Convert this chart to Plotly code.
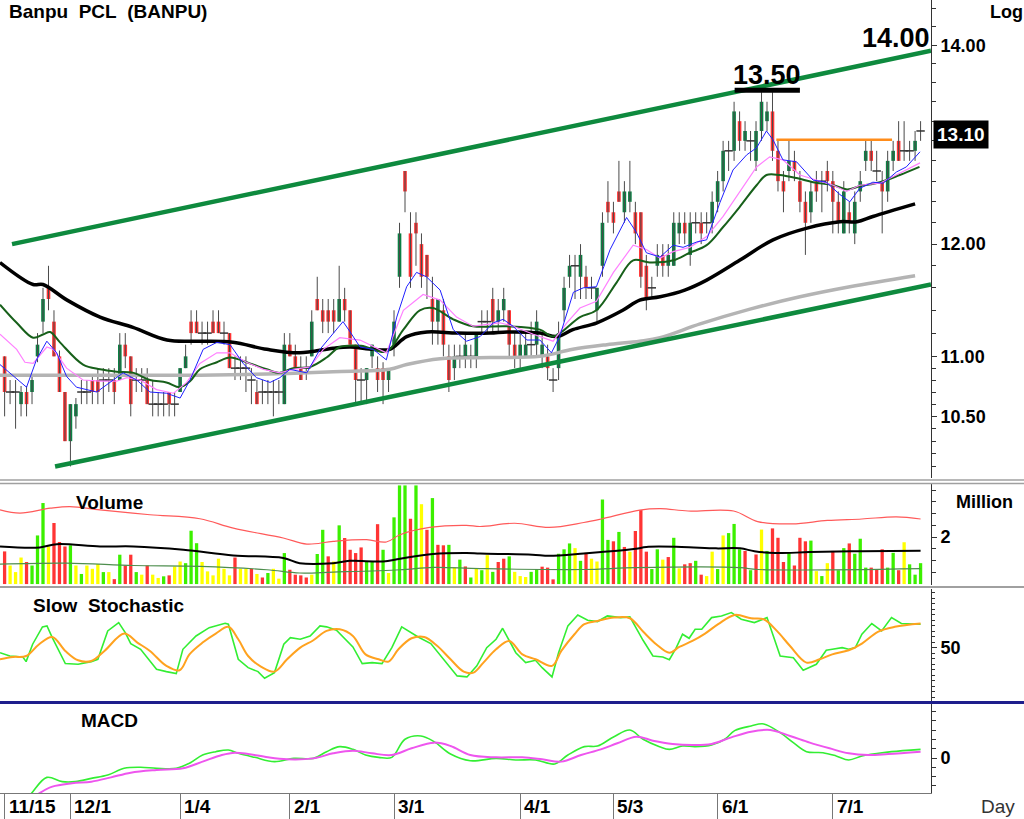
import math
import plotly.graph_objects as go
from plotly.subplots import make_subplots

# ---------------- price data (bar index 0 = 11/15) ----------------
opens = [11.0,10.7,10.7,10.6,10.7,10.7,11.0,11.3,11.6,11.3,11.0,10.7,10.3,10.5,10.7,10.7,10.8,10.8,10.8,10.8,
         10.8,10.8,11.1,11.0,10.8,10.8,10.8,10.6,10.6,10.6,10.7,10.6,10.7,10.9,11.3,11.3,11.2,11.2,11.3,11.3,
         11.2,11.2,10.9,10.9,10.9,10.8,10.7,10.7,10.7,10.7,10.7,10.6,11.1,11.0,10.9,10.9,11.0,11.5,11.4,11.4,
         11.4,11.3,11.5,11.4,11.1,10.8,10.8,11.0,10.9,10.9,10.8,11.1,11.7,12.7,12.1,12.2,12.0,11.9,11.5,11.3,
         11.4,11.0,10.9,11.0,11.0,11.0,11.0,11.3,11.3,11.5,11.3,11.4,11.4,11.1,11.0,11.0,11.1,11.1,11.0,11.0,
         10.8,10.9,11.4,11.7,11.8,11.7,11.7,11.6,11.4,11.8,12.4,12.3,12.5,12.3,12.4,12.3,12.3,11.8,11.6,11.8,
         11.9,11.8,11.8,12.1,12.2,11.9,12.2,12.2,12.2,12.2,12.4,12.6,12.9,12.9,13.2,13.0,13.0,12.8,13.1,13.2,
         13.3,12.9,12.6,12.7,12.8,12.6,12.4,12.3,12.6,12.6,12.7,12.6,12.4,12.1,12.3,12.1,12.5,12.8,12.9,12.7,
         12.6,12.5,12.8,13.0,12.9,12.9,12.9,13.1]
highs = [11.0,10.8,10.8,10.75,10.75,10.85,11.2,11.6,11.8,11.4,11.05,10.7,10.6,10.65,10.8,10.8,10.85,10.9,10.9,10.9,
         10.9,11.2,11.2,11.0,10.9,10.9,10.9,10.8,10.7,10.7,10.7,10.7,10.9,11.1,11.4,11.4,11.3,11.3,11.4,11.4,
         11.3,11.2,11.0,11.0,11.0,10.9,10.8,10.8,10.8,10.8,10.8,11.2,11.2,11.1,11.0,11.0,11.4,11.7,11.5,11.5,
         11.5,11.8,11.6,11.4,11.1,10.9,10.9,11.1,11.0,10.95,10.9,11.4,12.2,12.7,12.3,12.3,12.1,11.9,11.7,11.5,
         11.5,11.1,11.1,11.1,11.2,11.1,11.2,11.4,11.4,11.6,11.5,11.6,11.4,11.2,11.2,11.2,11.3,11.4,11.2,11.1,
         10.9,11.3,11.7,11.9,11.9,12.0,11.8,11.7,11.6,12.3,12.6,12.4,12.8,12.6,12.8,12.4,12.3,11.9,11.7,12.0,
         12.0,12.0,12.3,12.3,12.3,12.3,12.3,12.3,12.3,12.5,12.7,13.0,13.0,13.4,13.3,13.2,13.1,13.2,13.5,13.4,
         13.5,13.0,12.7,13.0,12.9,12.7,12.5,12.6,12.7,12.7,12.8,12.7,12.5,12.6,12.4,12.5,12.7,13.0,13.0,12.9,
         12.7,12.9,13.0,13.2,13.2,13.0,13.1,13.2]
lows = [10.5,10.6,10.4,10.5,10.5,10.6,10.95,11.2,11.4,11.0,10.7,10.3,10.1,10.4,10.6,10.6,10.6,10.6,10.6,10.7,
        10.6,10.8,10.9,10.5,10.7,10.7,10.6,10.5,10.5,10.5,10.5,10.5,10.7,10.9,11.1,11.2,11.1,11.1,11.2,11.2,
        11.1,10.9,10.8,10.8,10.7,10.6,10.6,10.6,10.6,10.5,10.6,10.6,11.0,10.9,10.8,10.8,11.0,11.4,11.2,11.2,
        11.2,11.3,11.3,11.1,10.6,10.6,10.6,10.9,10.7,10.6,10.7,11.0,11.6,12.3,11.6,11.8,11.6,11.5,11.1,11.1,
        11.0,10.7,10.8,10.9,10.9,10.9,10.9,11.2,11.2,11.2,11.2,11.3,11.0,10.9,10.9,11.0,11.0,11.0,10.9,10.8,
        10.7,10.8,11.3,11.6,11.5,11.5,11.5,11.5,11.3,11.7,12.2,12.1,12.4,12.2,12.3,12.0,11.6,11.4,11.5,11.7,
        11.7,11.7,11.8,12.0,12.0,11.8,12.1,12.0,12.1,12.1,12.3,12.5,12.7,12.8,12.9,12.9,12.8,12.7,13.0,13.1,
        12.8,12.5,12.3,12.6,12.6,12.3,11.9,12.2,12.4,12.3,12.5,12.1,12.1,12.1,12.1,12.0,12.4,12.7,12.7,12.6,
        12.1,12.4,12.7,12.8,12.8,12.8,12.8,13.0]
closes = [10.7,10.7,10.7,10.7,10.6,10.8,11.1,11.5,11.5,11.0,10.7,10.3,10.6,10.6,10.7,10.7,10.7,10.7,10.8,10.8,
          10.7,11.1,11.0,10.6,10.8,10.8,10.6,10.6,10.6,10.6,10.6,10.6,10.9,11.0,11.2,11.2,11.2,11.2,11.2,11.2,
          11.2,10.9,10.9,10.9,10.9,10.8,10.6,10.7,10.7,10.7,10.7,11.1,11.0,10.9,10.8,10.9,11.3,11.4,11.3,11.3,
          11.3,11.5,11.4,11.1,10.8,10.8,10.9,11.1,10.8,10.8,10.9,11.3,12.1,12.5,11.7,12.1,11.7,11.7,11.3,11.5,
          11.1,10.8,11.0,11.0,11.1,11.0,11.2,11.3,11.3,11.3,11.4,11.5,11.1,11.0,11.1,11.1,11.1,11.3,11.1,10.9,
          10.8,11.2,11.6,11.8,11.8,11.9,11.6,11.6,11.6,12.2,12.3,12.2,12.4,12.5,12.5,12.1,11.7,11.5,11.6,11.9,
          11.8,11.9,12.2,12.2,12.1,12.2,12.2,12.1,12.2,12.4,12.6,12.9,12.9,13.3,13.0,13.1,13.0,13.1,13.4,13.3,
          12.9,12.6,12.5,12.8,12.7,12.4,12.2,12.5,12.5,12.6,12.6,12.4,12.2,12.5,12.2,12.4,12.6,12.9,12.8,12.7,
          12.5,12.8,12.9,12.8,12.9,12.9,13.0,13.1]

# ---------------- moving averages ----------------
ma_blue_x = [-0.84,1.6,4.0,5.8,7.7,9.5,11.3,13.1,16.8,19.8,21.6,24.1,26.5,29.5,32.0,33.8,36.2,38.7,41.1,43.5,
             45.9,48.4,50.2,52.0,55.1,57.5,59.9,61.7,63.0,64.8,67.2,69.6,71.5,73.3,75.1,76.9,79.4,81.8,84.2,86.7,
             89.1,90.9,92.7,95.2,97.6,99.7,101.2,103.7,105.5,107.9,110.4,113.4,115.2,117.0,119.5,121.9,123.7,126.2,128.0,130.4,
             132.8,135.3,137.1,138.9,140.1,141.9,144.4,147.4,149.8,152.3,154.1,155.9,158.3,160.2,162.6,164.4,166.9]
ma_blue_y = [10.93,10.83,10.74,10.97,11.13,11.03,10.83,10.74,10.70,10.80,10.86,10.80,10.70,10.69,10.65,10.80,11.06,11.12,11.10,10.94,
             10.82,10.78,10.82,10.89,10.86,11.06,11.20,11.30,11.21,11.08,11.06,10.97,11.34,11.61,11.74,11.70,11.58,11.23,11.13,11.17,
             11.29,11.32,11.26,11.14,11.14,11.03,11.17,11.56,11.60,11.61,11.95,12.25,12.11,11.92,11.88,11.99,11.97,12.02,12.04,12.39,
             12.71,12.86,12.93,13.10,13.01,12.81,12.79,12.61,12.59,12.47,12.40,12.53,12.59,12.58,12.69,12.74,12.89]

ma_pink_x = [-0.84,2.2,3.7,5.2,7.7,8.9,11.3,14.3,17.4,20.4,22.3,24.7,27.7,30.8,33.2,35.6,38.7,41.1,44.1,47.2,
             50.2,52.6,55.7,58.1,61.1,64.8,69.6,72.7,76.3,79.4,82.4,85.4,90.3,92.7,96.4,100.0,102.5,104.9,107.9,111.0,
             114.6,117.0,119.5,121.9,124.9,128.0,131.0,134.0,137.1,139.5,141.9,145.0,148.0,151.1,153.5,155.9,159.6,163.2,166.9]
ma_pink_y = [11.19,11.06,10.95,10.94,11.08,11.06,10.90,10.80,10.79,10.79,10.82,10.80,10.72,10.69,10.78,10.94,11.03,11.03,10.95,10.89,
             10.86,10.89,10.91,11.06,11.16,11.14,11.03,11.40,11.54,11.49,11.34,11.26,11.29,11.26,11.19,11.13,11.29,11.42,11.48,11.74,
             11.99,11.95,11.87,11.93,11.97,12.07,12.26,12.49,12.74,12.84,12.81,12.66,12.61,12.56,12.50,12.56,12.58,12.68,12.78]

ma_green_x = [-0.84,2.2,5.2,7.1,8.3,10.1,14.3,17.4,20.4,23.5,26.5,29.5,32.0,33.8,35.6,38.7,41.1,44.7,47.8,50.2,
              52.6,55.7,58.7,61.1,65.0,69.6,72.7,75.7,78.1,81.8,85.4,91.5,97.6,100.0,104.9,107.9,111.6,114.6,117.6,121.9,
              124.9,128.0,131.0,134.0,137.1,138.9,141.3,144.4,147.4,151.1,153.6,155.9,159.6,163.2,166.8]
ma_green_y = [11.45,11.29,11.16,11.19,11.21,11.12,10.93,10.89,10.87,10.86,10.80,10.78,10.74,10.79,10.89,10.95,10.99,10.94,10.89,10.86,
              10.90,10.91,10.99,11.08,11.09,11.04,11.23,11.40,11.42,11.32,11.26,11.26,11.23,11.17,11.34,11.40,11.65,11.85,11.83,11.85,
              11.92,11.99,12.16,12.35,12.56,12.66,12.66,12.63,12.59,12.56,12.52,12.55,12.59,12.66,12.74]

ma_black_x = [-0.84,5.2,7.0,11.4,17.4,23.4,29.6,35.6,41.6,47.8,53.8,59.9,63.0,67.2,70.2,73.3,77.0,82.5,88.5,91.6,
              97.6,100.7,103.6,108.0,112.7,115.8,119.5,124.0,128.0,134.0,140.1,146.3,152.3,155.4,158.3,166.0]
ma_black_y = [11.83,11.63,11.63,11.49,11.34,11.25,11.14,11.13,11.12,11.06,11.03,11.07,11.08,11.06,11.06,11.17,11.21,11.20,11.20,11.21,
              11.20,11.17,11.23,11.29,11.40,11.49,11.52,11.58,11.67,11.85,12.04,12.15,12.21,12.21,12.26,12.38]

ma_gray_x = [-0.84,20.5,35.6,47.8,59.9,70.2,73.3,79.4,88.5,97.6,103.6,109.8,115.8,119.5,126.8,135.9,145.0,154.1,166.0]
ma_gray_y = [10.84,10.84,10.84,10.85,10.87,10.89,10.93,10.98,10.99,11.00,11.06,11.10,11.13,11.16,11.28,11.41,11.52,11.61,11.71]

# trend channel and marked levels
trend_up_x = [1.35, 168.9]
trend_up_y = [12.00, 13.94]
trend_lo_x = [9.2, 168.9]
trend_lo_y = [10.10, 11.63]
resist_x = [140.7, 161.8]
resist_y = [13.01, 13.01]
peak_bar_x = [133.1, 145.0]
peak_bar_y = [13.52, 13.52]

# ---------------- volume (million shares) ----------------
volume = [1.39,0.79,0.51,1.13,0.94,0.79,2.07,3.45,1.60,2.60,1.79,1.60,1.65,0.79,0.43,0.79,0.65,0.85,0.51,0.51,
          0.21,1.25,0.79,1.25,0.51,0.40,0.79,0.40,0.26,0.33,0.37,0.75,0.96,0.89,2.27,1.74,0.94,0.54,0.37,1.08,
          0.65,0.37,1.13,0.65,0.65,0.65,0.43,0.28,0.47,0.65,0.23,1.32,0.61,0.40,0.37,0.28,0.40,1.28,2.31,1.18,
          0.96,2.50,1.96,1.46,1.32,1.56,0.96,0.96,2.55,1.46,0.47,2.84,4.20,4.20,2.78,4.20,3.40,2.31,3.66,1.67,
          1.65,1.67,0.71,1.04,0.75,0.28,0.68,0.59,1.23,0.52,0.94,1.08,1.18,0.52,0.34,0.30,0.52,0.64,0.74,0.70,
          0.20,1.29,1.48,1.73,1.53,0.99,1.33,1.08,0.96,3.60,1.88,1.82,2.22,1.58,1.38,2.26,3.15,1.38,0.64,1.48,
          1.04,1.15,1.97,0.67,0.84,0.89,0.99,0.40,0.34,1.38,0.64,2.07,2.17,2.56,1.48,1.41,0.59,1.26,2.32,1.41,
          2.37,1.97,0.94,1.33,0.79,1.97,1.82,1.85,0.55,0.34,0.89,1.41,0.59,1.53,1.73,1.29,1.93,0.70,0.70,0.64,
          1.48,0.70,1.33,0.59,1.78,0.84,0.40,0.89]
vol_dir = list("ryyyrgggyrrrgygyyygy"
               "rgrrgyryygryygggyyyy"
               "yyryyryrgyygrrrryggr"
               "ygrrrrggrgygggrgyrgr"
               "rgygrgygygrrgyyyggrr"
               "rgggygryyggrgryrrrgg"
               "yrgyrrgryygygggrgryg"
               "rrrgrrrgygyrggrgggrr"
               "rggrygggg")

vol_red_x = [-0.84,2.8,8.3,11.9,17.4,26.5,35.6,41.7,50.8,55.1,59.9,66.0,69.6,72.1,77.5,84.2,86.7,93.0,99.3,105.6,
             108.8,115.8,119.6,124.6,132.9,137.3,143.6,150.0,156.3,162.6,167.0]
vol_red_y = [3.16,3.02,3.23,3.30,3.16,2.95,2.78,2.38,1.96,1.70,1.82,1.89,1.79,2.10,2.41,2.50,2.45,2.59,2.41,2.62,
             2.77,3.15,3.21,3.11,3.11,2.66,2.56,2.71,2.77,2.86,2.77]
vol_black_x = [-0.84,6.4,9.5,17.4,23.5,32.6,41.7,50.8,53.8,59.9,62.9,69.0,72.1,78.1,84.2,86.7,96.2,99.3,105.6,108.8,
               115.1,117.0,123.4,129.7,134.1,136.7,140.5,146.8,156.3,167.0]
vol_black_y = [1.60,1.56,1.70,1.60,1.60,1.46,1.22,1.11,0.89,0.89,0.99,0.96,1.08,1.28,1.32,1.30,1.25,1.20,1.30,1.36,
               1.50,1.58,1.58,1.52,1.52,1.40,1.32,1.36,1.40,1.42]
vol_green_x = [-0.84,11.3,23.5,35.6,47.8,53.8,59.9,72.1,78.1,86.7,105.6,115.1,134.1,137.3,167.0]
vol_green_y = [0.85,0.89,0.79,0.75,0.61,0.47,0.51,0.61,0.71,0.66,0.62,0.70,0.70,0.62,0.66]

# ---------------- slow stochastic ----------------
stoch_k_x = [-0.84,0.95,3.33,3.92,5.11,6.9,7.73,8.69,11.07,13.4,15.8,17.0,18.8,20.8,22.0,23.0,24.8,27.7,29.5,31.3,
             32.5,34.9,37.3,40.2,40.8,42.6,44.4,46.2,47.4,49.2,50.9,52.1,53.9,55.7,57.5,58.7,60.5,63.5,65.2,67.0,
             68.8,70.6,72.4,73.6,75.4,77.7,80.1,82.5,84.3,86.1,87.9,89.6,90.8,93.2,95.0,96.8,98.0,99.8,101.0,102.7,
             104.5,106.3,108.1,109.9,112.3,114.0,116.4,118.2,120.0,121.2,122.4,123.6,124.8,125.9,127.1,128.9,130.7,132.5,134.3,136.7,
             139.0,141.4,143.8,145.6,148.0,149.8,150.9,152.7,153.9,155.1,156.3,158.1,159.9,161.7,163.5,167.0]
stoch_k_y = [45.7,42.7,41.8,37.6,53.4,69.2,70.1,59.4,35.8,35.2,37.6,39.7,65.5,73.1,64.0,54.0,48.8,30.6,28.5,26.7,
             48.8,60.9,68.5,72.5,71.6,39.7,32.1,28.5,22.5,27.6,53.4,59.4,57.9,60.9,70.1,69.2,66.1,50.9,35.8,36.7,
             35.8,50.3,69.2,65.5,60.0,54.0,39.7,24.6,23.7,33.7,50.3,57.9,67.9,45.7,36.7,38.8,32.1,23.7,45.7,70.1,
             80.0,75.2,74.0,79.1,77.6,78.2,57.0,42.7,41.8,39.4,49.7,62.5,58.8,67.0,67.0,77.6,79.1,82.2,76.1,73.1,
             77.6,42.7,41.2,29.7,35.2,47.9,48.8,50.3,48.8,50.3,62.5,72.2,65.5,77.6,72.2,71.6]
stoch_d_x = [-0.84,1.54,3.92,6.3,8.69,11.07,13.4,15.8,18.2,21.8,24.2,26.5,29.5,31.9,33.7,36.1,38.5,40.8,42.6,44.4,
             46.8,49.2,51.5,53.9,56.3,58.7,61.1,63.5,65.8,68.2,70.0,71.8,74.2,76.5,78.9,81.3,83.7,85.5,87.3,89.6,
             92.0,94.4,96.8,99.8,101.5,103.9,105.7,108.1,111.1,114.0,116.4,118.8,121.2,123.0,125.4,127.7,130.1,133.1,136.1,138.4,
             140.8,143.2,146.2,148.6,150.9,153.9,156.3,159.3,162.3,167.0]
stoch_d_y = [39.7,41.8,42.7,53.4,60.0,47.3,38.8,38.2,47.3,63.1,54.9,47.3,33.7,29.7,44.2,54.9,63.1,69.2,57.9,42.7,
             32.8,28.5,39.7,50.3,57.0,65.5,67.0,60.9,44.2,39.7,37.6,48.8,58.8,60.0,51.8,39.7,28.5,27.6,36.7,48.8,
             56.4,44.2,39.7,33.7,47.3,62.5,71.6,74.6,77.6,77.0,64.9,53.4,45.7,50.9,56.4,63.1,71.6,80.0,77.0,76.1,
             65.5,51.8,36.7,39.7,44.2,47.9,54.0,64.9,69.2,72.2]

# ---------------- MACD ----------------
macd_x = [2.0,4.9,7.7,10.5,12.9,15.8,18.8,21.8,24.8,27.7,31.3,33.7,36.1,38.5,40.8,42.6,45.6,49.2,52.7,56.3,
          58.7,61.1,63.5,65.8,68.2,70.6,73.0,75.9,78.3,81.3,84.9,89.6,93.2,96.8,100.3,102.7,105.7,108.1,111.1,114.0,
          116.4,119.4,121.2,123.6,125.9,128.9,131.3,133.1,136.1,138.4,141.4,143.8,146.2,149.2,151.6,153.9,156.3,159.3,161.7,167.0]
macd_y = [-0.60,-0.38,-0.208,-0.254,-0.254,-0.219,-0.183,-0.111,-0.100,-0.111,-0.111,-0.057,0.032,0.068,0.086,0.050,0.007,-0.039,-0.004,-0.004,
          0.068,0.122,0.093,0.032,0.007,0.007,0.201,0.237,0.176,0.043,-0.029,-0.004,-0.021,-0.021,-0.064,0.032,0.122,0.129,0.229,0.301,
          0.201,0.122,0.093,0.129,0.122,0.140,0.201,0.294,0.344,0.366,0.272,0.165,0.068,0.057,0.022,-0.021,0.022,0.050,0.068,0.093]
signal_x = [4.0,6.3,8.7,12.3,15.8,19.4,23.0,27.7,32.5,36.1,39.6,42.0,44.4,48.0,51.5,56.3,59.9,63.5,67.0,70.6,
            74.2,78.3,81.3,84.9,89.6,94.4,98.0,101.5,105.1,108.7,111.7,115.2,118.2,121.8,125.4,128.9,132.5,136.1,139.6,143.2,
            146.8,150.4,153.9,157.5,161.1,167.0]
signal_y = [-0.48,-0.38,-0.308,-0.272,-0.254,-0.208,-0.158,-0.129,-0.111,-0.039,0.032,0.057,0.043,0.007,-0.014,-0.004,0.050,0.079,0.050,0.032,
            0.104,0.165,0.129,0.032,0.007,0.007,-0.014,-0.039,0.032,0.093,0.158,0.229,0.186,0.151,0.140,0.151,0.222,0.283,0.301,0.237,
            0.165,0.104,0.050,0.032,0.043,0.068]

# ---------------- axis labels ----------------
tick_idx = [0, 12, 32, 52, 71, 94, 111, 130, 151]
tick_txt = ["11/15", "12/1", "1/4", "2/1", "3/1", "4/1", "5/3", "6/1", "7/1"]
price_ticks = [10.5, 11.0, 12.0, 14.0]
price_tick_txt = ["10.50", "11.00", "12.00", "14.00"]

# ---------------- styles ----------------
UP = "#0B8144"
DOWN = "#FF3434"
VCOL = {"g": "#3CF000", "r": "#FF3434", "y": "#FFFF00"}
FONT = "Liberation Sans, Arial, sans-serif"
PLOT_W = 931.0
PLOT_H = 793.0

def py(px):
    return 1 - px / PLOT_H

def pxx(px):
    return px / PLOT_W

N = len(closes)
idx = list(range(N))

fig = make_subplots(rows=4, cols=1, shared_xaxes=True, vertical_spacing=0.0)

# wicks
wx, wy = [], []
for i in idx:
    wx += [i, i, None]
    wy += [lows[i], highs[i], None]
fig.add_trace(go.Scatter(x=wx, y=wy, mode="lines", line=dict(color="#4a4a4a", width=1),
                         hoverinfo="skip"), row=1, col=1)

# bodies
bx, bbase, bh, bc = [], [], [], []
dx, dy = [], []
for i in idx:
    o, c = opens[i], closes[i]
    if abs(c - o) < 1e-9:
        dx.append(i); dy.append(c)
    else:
        bx.append(i); bbase.append(min(o, c)); bh.append(abs(c - o))
        bc.append(UP if c > o else DOWN)
fig.add_trace(go.Bar(x=bx, y=bh, base=bbase, width=0.66, marker=dict(color=bc, line=dict(width=0)),
                     hoverinfo="skip"), row=1, col=1)
fig.add_trace(go.Scatter(x=dx, y=dy, mode="markers",
                         marker=dict(symbol="line-ew", size=6, line=dict(color="#333", width=1.5)),
                         hoverinfo="skip"), row=1, col=1)

# moving averages
fig.add_trace(go.Scatter(x=ma_gray_x, y=ma_gray_y, mode="lines", line=dict(color="#B4B4B4", width=3.5, shape="spline")), row=1, col=1)
fig.add_trace(go.Scatter(x=ma_black_x, y=ma_black_y, mode="lines", line=dict(color="#000000", width=3.5, shape="spline")), row=1, col=1)
fig.add_trace(go.Scatter(x=ma_green_x, y=ma_green_y, mode="lines", line=dict(color="#17601A", width=2, shape="spline")), row=1, col=1)
fig.add_trace(go.Scatter(x=ma_pink_x, y=ma_pink_y, mode="lines", line=dict(color="#FF80FF", width=1.2)), row=1, col=1)
fig.add_trace(go.Scatter(x=ma_blue_x, y=ma_blue_y, mode="lines", line=dict(color="#2020FF", width=1)), row=1, col=1)

# trend channel, resistance, peak marker
for tx, ty in ((trend_up_x, trend_up_y), (trend_lo_x, trend_lo_y)):
    fig.add_trace(go.Scatter(x=tx, y=ty, mode="lines", line=dict(color="#0E8A3E", width=4.5)), row=1, col=1)
fig.add_trace(go.Scatter(x=resist_x, y=resist_y, mode="lines", line=dict(color="#FF8C1A", width=2.5)), row=1, col=1)
fig.add_trace(go.Scatter(x=peak_bar_x, y=peak_bar_y, mode="lines", line=dict(color="#000000", width=5)), row=1, col=1)

# volume
fig.add_trace(go.Bar(x=idx, y=volume, width=0.6, marker=dict(color=[VCOL[d] for d in vol_dir], line=dict(width=0)),
                     hoverinfo="skip"), row=2, col=1)
fig.add_trace(go.Scatter(x=vol_red_x, y=vol_red_y, mode="lines", line=dict(color="#FF5A5A", width=1.2, shape="spline")), row=2, col=1)
fig.add_trace(go.Scatter(x=vol_black_x, y=vol_black_y, mode="lines", line=dict(color="#000000", width=2, shape="spline")), row=2, col=1)
fig.add_trace(go.Scatter(x=vol_green_x, y=vol_green_y, mode="lines", line=dict(color="#4E8E4E", width=1.2, shape="spline")), row=2, col=1)

# stochastic
fig.add_trace(go.Scatter(x=stoch_k_x, y=stoch_k_y, mode="lines", line=dict(color="#33EE33", width=1.6)), row=3, col=1)
fig.add_trace(go.Scatter(x=stoch_d_x, y=stoch_d_y, mode="lines", line=dict(color="#FFA21F", width=2, shape="spline")), row=3, col=1)

# MACD
fig.add_trace(go.Scatter(x=macd_x, y=macd_y, mode="lines", line=dict(color="#33EE33", width=1.6, shape="spline")), row=4, col=1)
fig.add_trace(go.Scatter(x=signal_x, y=signal_y, mode="lines", line=dict(color="#EE55EE", width=2, shape="spline")), row=4, col=1)

xr = [-0.84, 168.9]
fig.update_xaxes(range=xr, showgrid=False, zeroline=False, showticklabels=False, ticks="", showspikes=False)
fig.update_layout(xaxis4=dict(range=xr, tickmode="array", tickvals=tick_idx, ticks="outside", ticklen=26,
                              tickcolor="#777", tickwidth=1, showticklabels=False, showline=True,
                              linecolor="#777", linewidth=1))

tfont = dict(family=FONT, size=18, color="black", weight="bold")
common_y = dict(side="right", showgrid=False, zeroline=False, showline=True, linecolor="#333", linewidth=1,
                ticks="outside", ticklen=5, tickcolor="#333", tickfont=tfont)

minor_price = [10.1, 10.2, 10.3, 10.4, 10.6, 10.7, 10.8, 10.9, 11.2, 11.4, 11.6, 11.8,
               12.2, 12.4, 12.6, 12.8, 13.0, 13.2, 13.4, 13.6, 13.8, 14.2, 14.4]
fig.update_layout(
    yaxis=dict(domain=[py(478), 1.0], type="log", range=[math.log10(10.01), math.log10(14.50)],
               tickmode="array", tickvals=price_ticks, ticktext=price_tick_txt,
               minor=dict(tickmode="array", tickvals=minor_price, ticks="outside", ticklen=4, tickcolor="#333"),
               **common_y),
    yaxis2=dict(domain=[py(585), py(484)], range=[-0.04, 4.26], tickmode="array", tickvals=[2], ticktext=["2"],
                minor=dict(tickmode="array", tickvals=[0.5, 1, 1.5, 2.5, 3, 3.5, 4], ticks="outside", ticklen=4, tickcolor="#333"),
                **common_y),
    yaxis3=dict(domain=[py(701), py(589)], range=[1.8, 103.6], tickmode="array", tickvals=[50], ticktext=["50"],
                minor=dict(tickmode="array", tickvals=[5, 10, 15, 20, 25, 30, 35, 40, 45, 55, 60, 65, 70, 75, 80, 85, 90, 95, 100],
                           ticks="outside", ticklen=3, tickcolor="#333"),
                **common_y),
    yaxis4=dict(domain=[0.0, py(704)], range=[-0.376, 0.58], tickmode="array", tickvals=[0], ticktext=["0"],
                minor=dict(tickmode="array", tickvals=[-0.3, -0.2, -0.1, 0.1, 0.2, 0.3, 0.4, 0.5],
                           ticks="outside", ticklen=4, tickcolor="#333"),
                **common_y),
)

ann = []
def label(text, x, y, size=19, bold=True, color="black", xanchor="left", bg=None, xref="paper", xshift=0):
    d = dict(text=text, x=x, y=y, xref=xref, yref="paper", xanchor=xanchor, yanchor="middle",
             showarrow=False, xshift=xshift,
             font=dict(family=FONT, size=size, color=color, weight="bold" if bold else "normal"))
    if bg:
        d.update(bgcolor=bg, borderpad=3)
    ann.append(d)

label("Banpu\u00a0\u00a0PCL\u00a0\u00a0(BANPU)", pxx(7), py(12), size=19)
label("Log", pxx(988), py(12), size=18)
label("14.00", pxx(896), py(38), size=27, xanchor="center")
label("13.50", pxx(767), py(75), size=27, xanchor="center")
label("13.10", pxx(961), py(134), size=19, color="white", xanchor="center", bg="black")
label("Volume", pxx(74), py(502), size=19)
label("Million", pxx(954), py(502), size=18)
label("Slow\u00a0\u00a0Stochastic", pxx(31), py(605), size=19)
label("MACD", pxx(79), py(720), size=19)
label("Day", pxx(979), py(806), size=19, bold=False, color="#333")
for ti, tt in zip(tick_idx, tick_txt):
    label(tt, ti, py(806.5), size=19, xref="x4", xshift=2)

shapes = [
    dict(type="line", xref="paper", yref="paper", x0=0, x1=1024 / PLOT_W, y0=py(480), y1=py(480),
         line=dict(color="#A0A0A0", width=1.5)),
    dict(type="line", xref="paper", yref="paper", x0=0, x1=1024 / PLOT_W, y0=py(483.5), y1=py(483.5),
         line=dict(color="#A0A0A0", width=1.5)),
    dict(type="line", xref="paper", yref="paper", x0=0, x1=1024 / PLOT_W, y0=py(587), y1=py(587),
         line=dict(color="#A0A0A0", width=2)),
    dict(type="line", xref="paper", yref="paper", x0=0, x1=1024 / PLOT_W, y0=py(702.5), y1=py(702.5),
         line=dict(color="#1E1E8C", width=3)),
]

fig.update_layout(width=1024, height=819, margin=dict(l=0, r=93, t=0, b=26),
                  plot_bgcolor="white", paper_bgcolor="white", showlegend=False,
                  barmode="overlay", annotations=ann, shapes=shapes,
                  font=dict(family=FONT, color="black"))

fig.write_html("out.html", config={"displayModeBar": False, "staticPlot": True},
               post_script="document.body.style.margin='0px';document.body.style.overflow='hidden';")
